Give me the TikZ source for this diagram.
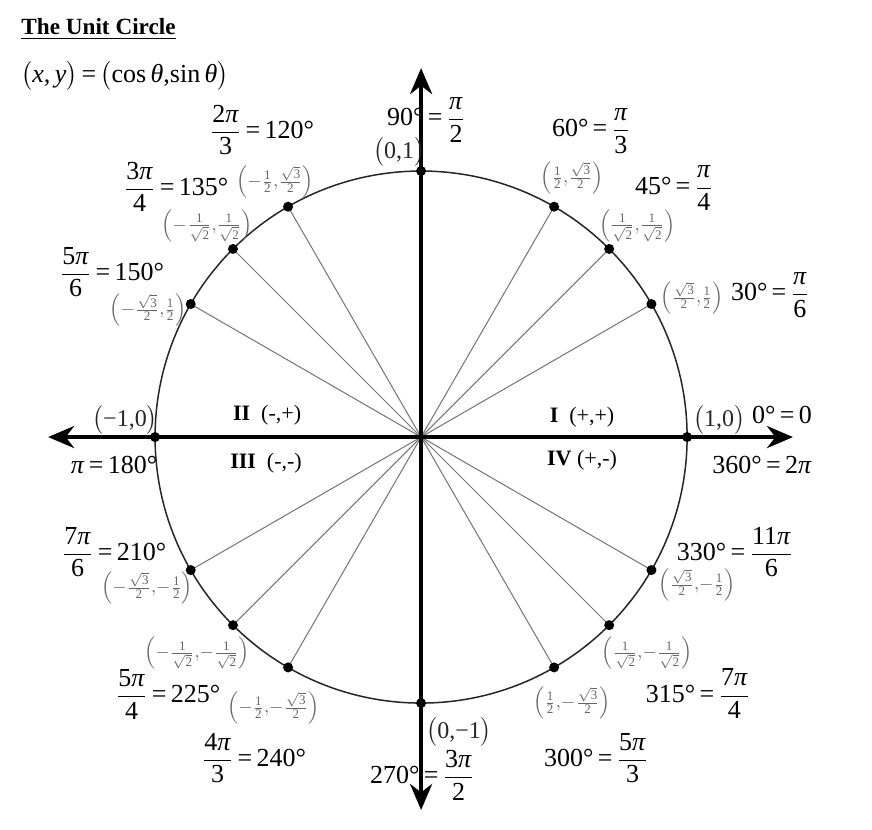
\documentclass[tikz,border=0pt]{standalone}
\usepackage{amsmath}
\usepackage{fontspec}
\setmainfont{Liberation Serif}
\usepackage{tikz}
\usetikzlibrary{arrows.meta}
\newcommand{\ppi}{\textit{π}}
\newcommand{\ufr}[2]{$\dfrac{\text{#1}}{\text{#2}}$}
\newcommand{\sfr}[2]{\frac{\text{#1}}{\text{#2}}}
\newcommand{\rfr}[2]{\frac{\sqrt{\text{#1}}}{\text{#2}}}
\newcommand{\ifr}[1]{\frac{\text{1}}{\sqrt{\text{#1}}}}
\tikzset{
  axisln/.style={{Stealth[length=13pt,width=11pt]}-{Stealth[length=13pt,width=11pt]},line width=2pt},
  ray/.style={line width=0.5pt,black!55},
  circ/.style={line width=0.75pt,black!85},
  dotp/.style={circle,fill=black,inner sep=0pt,minimum size=5pt},
  anglbl/.style={font=\fontsize{13}{14}\selectfont,inner sep=0pt},
  cdlbl/.style={font=\fontsize{9.3}{10}\selectfont,text=black!60,inner sep=0pt},
  axlbl/.style={font=\fontsize{12}{13}\selectfont,text=black!85,inner sep=0pt},
  quadlbl/.style={font=\fontsize{11}{12}\selectfont,inner sep=1pt,fill=white},
}

\begin{document}
\begin{tikzpicture}[x=133pt,y=133pt]
  \useasboundingbox (-1.583,-1.474) rectangle (1.695,1.643);
  % circle, rays from the centre, then the two axes
  \coordinate (O) at (0,0);
  \foreach \a in {0,30,45,60,90,120,135,150,180,210,225,240,270,300,315,330}{ \coordinate (p\a) at (\a:1); }
  \draw[circ] (O) circle (1);
  \foreach \a in {30,45,60,120,135,150,210,225,240,300,315,330}{ \draw[ray] (O) -- (p\a); }
  \coordinate (xl) at (-1.402,0); \coordinate (xr) at (1.398,0);
  \coordinate (yb) at (0,-1.402); \coordinate (yt) at (0,1.387);
  \draw[axisln] (xl) -- (xr);
  \draw[axisln] (yb) -- (yt);
  \foreach \a in {0,30,45,60,90,120,135,150,180,210,225,240,270,300,315,330}{ \node[dotp] (d\a) at (p\a) {}; }

  % title and formula
  \node[anchor=west,font=\fontsize{11.6}{14}\selectfont\bfseries,inner sep=0pt] (title) at (-1.504,1.534) {\underline{The Unit Circle}};
  \node[anchor=west,font=\fontsize{13}{15}\selectfont,inner sep=0pt] (formula) at (-1.504,1.357)
    {$\bigl($\textit{x},\,\textit{y}$\bigr)$\,=\,$\bigl($cos\,\textit{θ},sin\,\textit{θ}$\bigr)$};

  % quadrant I
  \node[anglbl] (l30) at (1.312,0.534) {30°\,=\,\ufr{\ppi}{6}};
  \node[cdlbl] (c30) at (1.019,0.523) {$\left(\rfr{3}{2}{,}\sfr{1}{2}\right)$};
  \node[anglbl] (l45) at (0.951,0.935) {45°\,=\,\ufr{\ppi}{4}};
  \node[cdlbl] (c45) at (0.812,0.795) {$\left(\ifr{2}{,}\ifr{2}\right)$};
  \node[anglbl] (l60) at (0.639,1.150) {60°\,=\,\ufr{\ppi}{3}};
  \node[cdlbl] (c60) at (0.568,0.974) {$\left(\sfr{1}{2}{,}\rfr{3}{2}\right)$};
  \node[anglbl] (l90) at (0.019,1.192) {90°\,=\,\ufr{\ppi}{2}};
  \node[axlbl] (c90) at (-0.083,1.071) {$\bigl($0,1$\bigr)$};

  % quadrant II
  \node[anglbl] (l120) at (-0.598,1.154) {\ufr{2\ppi}{3}\,=\,120°};
  \node[cdlbl] (c120) at (-0.549,0.959) {$\left(-\sfr{1}{2}{,}\rfr{3}{2}\right)$};
  \node[anglbl] (l135) at (-0.921,0.940) {\ufr{3\ppi}{4}\,=\,135°};
  \node[cdlbl] (c135) at (-0.805,0.795) {$\left(-\ifr{2}{,}\ifr{2}\right)$};
  \node[anglbl] (l150) at (-1.162,0.620) {\ufr{5\ppi}{6}\,=\,150°};
  \node[cdlbl] (c150) at (-1.026,0.477) {$\left(-\rfr{3}{2}{,}\sfr{1}{2}\right)$};
  \node[axlbl] (c180) at (-1.113,0.064) {$\bigl($−1,0$\bigr)$};
  \node[anglbl] (l180) at (-1.154,-0.105) {\ppi\,=\,180°};

  % quadrant III
  \node[anglbl] (l210) at (-1.154,-0.432) {\ufr{7\ppi}{6}\,=\,210°};
  \node[cdlbl] (c210) at (-1.030,-0.568) {$\left(-\rfr{3}{2}{,}{-}\sfr{1}{2}\right)$};
  \node[cdlbl] (c225) at (-0.842,-0.812) {$\left(-\ifr{2}{,}{-}\ifr{2}\right)$};
  \node[anglbl] (l225) at (-0.951,-0.968) {\ufr{5\ppi}{4}\,=\,225°};
  \node[cdlbl] (c240) at (-0.556,-1.019) {$\left(-\sfr{1}{2}{,}{-}\rfr{3}{2}\right)$};
  \node[anglbl] (l240) at (-0.628,-1.207) {\ufr{4\ppi}{3}\,=\,240°};
  \node[axlbl] (c270) at (0.143,-1.109) {$\bigl($0,−1$\bigr)$};
  \node[anglbl] (l270) at (0.004,-1.271) {270°\,=\,\ufr{3\ppi}{2}};

  % quadrant IV
  \node[cdlbl] (c300) at (0.568,-1.000) {$\left(\sfr{1}{2}{,}{-}\rfr{3}{2}\right)$};
  \node[anglbl] (l300) at (0.658,-1.207) {300°\,=\,\ufr{5\ppi}{3}};
  \node[cdlbl] (c315) at (0.850,-0.812) {$\left(\ifr{2}{,}{-}\ifr{2}\right)$};
  \node[anglbl] (l315) at (1.041,-0.965) {315°\,=\,\ufr{7\ppi}{4}};
  \node[anglbl] (l330) at (1.180,-0.432) {330°\,=\,\ufr{11\ppi}{6}};
  \node[cdlbl] (c330) at (1.038,-0.556) {$\left(\rfr{3}{2}{,}{-}\sfr{1}{2}\right)$};
  \node[axlbl] (c0) at (1.120,0.064) {$\bigl($1,0$\bigr)$};
  \node[anglbl] (l0) at (1.357,0.083) {0°\,=\,0};
  \node[anglbl] (l360) at (1.282,-0.105) {360°\,=\,2\ppi};

  % quadrant names
  \node[quadlbl] (q1) at (0.605,0.075) {\textbf{I}\ \ (+,+)};
  \node[quadlbl] (q2) at (-0.579,0.083) {\textbf{II}\ \ (-,+)};
  \node[quadlbl] (q3) at (-0.583,-0.098) {\textbf{III}\ \ (-,-)};
  \node[quadlbl] (q4) at (0.605,-0.086) {\textbf{IV}\ (+,-)};
\end{tikzpicture}
\end{document}
